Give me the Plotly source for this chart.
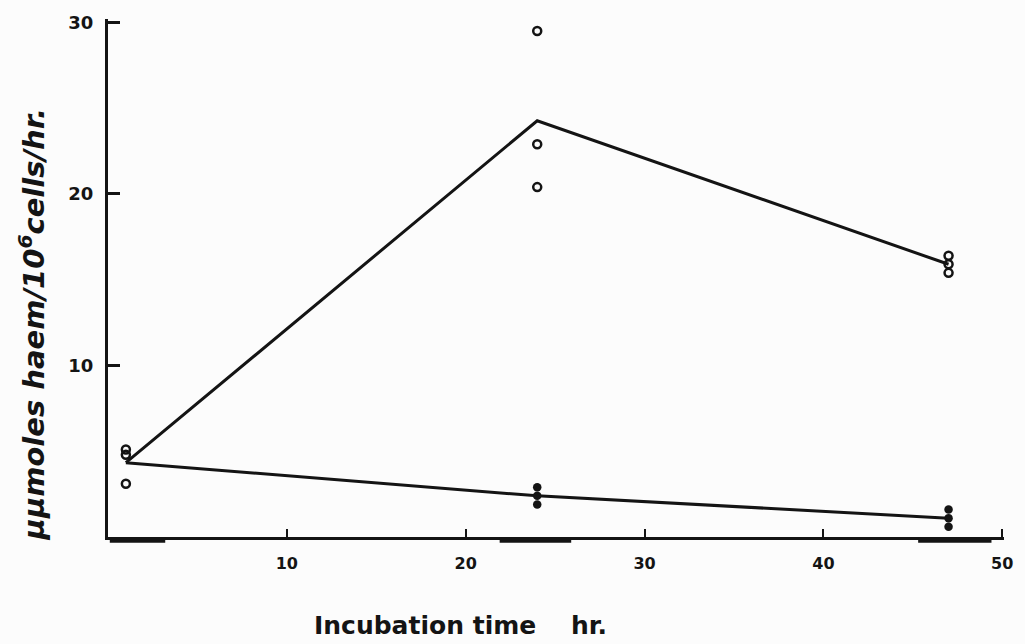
import plotly.graph_objects as go

# Incubation times (hr) and replicate measurements (µµmoles haem / 10^6 cells / hr)
times = [1, 24, 47]
upper_reps = [
    [5.1, 4.8, 3.1],
    [29.5, 22.9, 20.4],
    [16.4, 15.9, 15.4],
]
lower_reps = [
    [5.1, 4.8, 3.1],
    [1.9, 2.4, 2.9],
    [0.6, 1.1, 1.6],
]

# Sampling windows marked along the time axis (hr)
window_start = [0.1, 21.9, 45.3]
window_end = [3.2, 25.9, 49.4]

x_ticks = [10, 20, 30, 40, 50]
y_ticks = [10, 20, 30]

INK = "#141414"
NUM_FONT = "DejaVu Sans"
TITLE_FONT = "DejaVu Sans"


def mean(vals):
    return sum(vals) / len(vals)


fig = go.Figure()

# Mean lines
fig.add_trace(go.Scatter(
    x=times, y=[mean(v) for v in upper_reps], mode="lines",
    line=dict(color=INK, width=3), showlegend=False, hoverinfo="skip"))
fig.add_trace(go.Scatter(
    x=times, y=[mean(v) for v in lower_reps], mode="lines",
    line=dict(color=INK, width=3), showlegend=False, hoverinfo="skip"))

# Replicate points, upper series (open circles)
ux, uy = [], []
for t, reps in zip(times, upper_reps):
    for r in reps:
        ux.append(t)
        uy.append(r)
fig.add_trace(go.Scatter(
    x=ux, y=uy, mode="markers",
    marker=dict(symbol="circle-open", size=8, color=INK, line=dict(width=2.5, color=INK)),
    showlegend=False))

# Replicate points, lower series (solid, overlapping)
lx, ly = [], []
for t, reps in zip(times[1:], lower_reps[1:]):
    for r in reps:
        lx.append(t)
        ly.append(r)
fig.add_trace(go.Scatter(
    x=lx, y=ly, mode="markers",
    marker=dict(symbol="circle", size=8.5, color=INK),
    showlegend=False))

# Thick bars under the time axis for the sampling windows
for a, b in zip(window_start, window_end):
    fig.add_shape(type="rect", xref="x", yref="paper",
                  x0=a, x1=b, y0=-0.011, y1=0.0,
                  fillcolor=INK, line=dict(width=0))

fig.update_xaxes(
    range=[0, 50.1], tickvals=x_ticks, ticktext=[str(v) for v in x_ticks],
    showgrid=False, zeroline=False, showline=True, linecolor=INK, linewidth=3,
    ticks="inside", ticklen=8, tickwidth=2, tickcolor=INK,
    tickfont=dict(family=NUM_FONT, size=16, color=INK, weight="bold"),
    ticklabelstandoff=10)
fig.update_yaxes(
    range=[0, 30.2], tickvals=y_ticks, ticktext=[str(v) for v in y_ticks],
    showgrid=False, zeroline=False, showline=True, linecolor=INK, linewidth=3,
    ticks="inside", ticklen=12, tickwidth=2.5, tickcolor=INK,
    tickfont=dict(family=NUM_FONT, size=18, color=INK, weight="bold"),
    ticklabelstandoff=8)

fig.add_annotation(
    text="μμmoles haem/10<sup>6</sup>cells/hr.", textangle=-90,
    xref="paper", yref="paper", x=-0.085, y=0.41,
    xanchor="center", yanchor="middle", showarrow=False,
    font=dict(family=TITLE_FONT, size=29, color=INK, style="italic", weight="bold"))
fig.add_annotation(
    text="Incubation time &nbsp;&nbsp; hr.",
    xref="paper", yref="paper", x=0.393, y=-0.17,
    xanchor="center", yanchor="middle", showarrow=False,
    font=dict(family=TITLE_FONT, size=25, color=INK, weight="bold"))

fig.update_layout(
    width=1025, height=644,
    margin=dict(l=108, r=20, t=12, b=107),
    paper_bgcolor="#fcfcfc", plot_bgcolor="#fcfcfc",
)

fig.write_html("out.html")
